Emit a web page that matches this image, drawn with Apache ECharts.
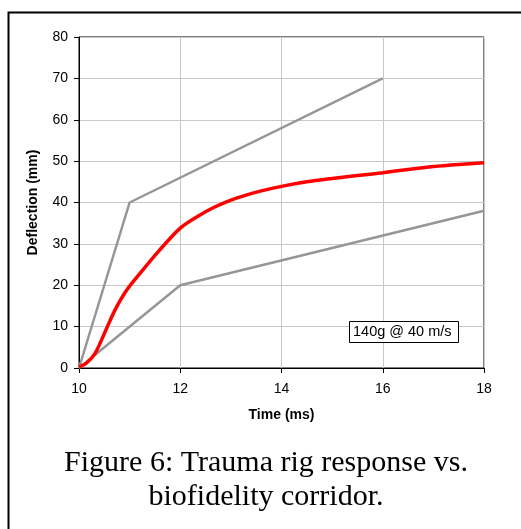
<!DOCTYPE html>
<html><head><meta charset="utf-8">
<script src="https://cdn.jsdelivr.net/npm/echarts@6/dist/echarts.min.js"></script>
<style>html,body{margin:0;padding:0;background:#fff}#c{width:521px;height:529px}</style>
</head><body><div id="c"></div>
<script>
// Corridor bounds
var upperT = [10, 11, 16];
var upperD = [0, 40, 70];
var lowerT = [10, 12, 18];
var lowerD = [0, 20, 38];
// Trauma rig response
var respT = [10, 10.15, 10.32, 10.51, 10.71, 10.94, 11.24, 11.57, 12.0, 12.35, 12.68, 13.0, 13.3, 13.6, 14.0, 14.5, 15.0, 15.5, 16.0, 16.5, 17.0, 17.5, 18.0];
var respD = [0.3, 1.2, 3.6, 8.6, 14.0, 18.8, 23.4, 28.2, 33.8, 36.7, 38.9, 40.6, 41.8, 42.8, 43.9, 45.0, 45.8, 46.5, 47.2, 48.0, 48.7, 49.2, 49.6];
var xTicks = [10, 12, 14, 16, 18];
var yTicks = [0, 10, 20, 30, 40, 50, 60, 70, 80];
var annotation = '140g @ 40 m/s';
var caption = ['Figure 6: Trauma rig response vs.', 'biofidelity corridor.'];

function zip(a, b) { return a.map(function (v, i) { return [v, b[i]]; }); }

var chart = echarts.init(document.getElementById('c'));
chart.setOption({
  animation: false,
  backgroundColor: '#fff',
  grid: { left: 79, right: 37, top: 37, bottom: 161, show: true, borderColor: '#000', borderWidth: 1 },
  xAxis: {
    type: 'value', min: xTicks[0], max: xTicks[xTicks.length - 1], interval: 2,
    name: 'Time (ms)', nameLocation: 'middle', nameGap: 40,
    nameTextStyle: { fontFamily: 'Liberation Sans', fontWeight: 'bold', fontSize: 14, color: '#000' },
    axisLine: { lineStyle: { color: '#000', width: 1 } },
    axisTick: { show: true, length: 5, lineStyle: { color: '#000' } },
    axisLabel: { fontFamily: 'Liberation Sans', fontSize: 14, color: '#000', margin: 14 },
    splitLine: { show: true, lineStyle: { color: '#c8c8c8', width: 1 } }
  },
  yAxis: {
    type: 'value', min: yTicks[0], max: yTicks[yTicks.length - 1], interval: 10,
    name: 'Deflection (mm)', nameLocation: 'middle', nameGap: 39,
    nameTextStyle: { fontFamily: 'Liberation Sans', fontWeight: 'bold', fontSize: 14, color: '#000' },
    axisLine: { show: true, lineStyle: { color: '#000', width: 1 } },
    axisTick: { show: true, length: 5, lineStyle: { color: '#000' } },
    axisLabel: { fontFamily: 'Liberation Sans', fontSize: 14, color: '#000', margin: 11 },
    splitLine: { show: true, lineStyle: { color: '#c8c8c8', width: 1 } }
  },
  series: [
    { type: 'line', data: zip(upperT, upperD), showSymbol: false, symbol: 'none',
      lineStyle: { color: '#969696', width: 2.5 }, z: 3 },
    { type: 'line', data: zip(lowerT, lowerD), showSymbol: false, symbol: 'none',
      lineStyle: { color: '#969696', width: 2.5 }, z: 3 },
    { type: 'line', data: zip(respT, respD), showSymbol: false, symbol: 'none', smooth: 0.3,
      lineStyle: { color: '#ff0000', width: 3.5 }, z: 4 }
  ],
  graphic: [
    { type: 'rect', left: 6, top: 10, z: 10, silent: true,
      shape: { width: 600, height: 600 },
      style: { fill: 'none', stroke: '#000', lineWidth: 2 } },
    { type: 'rect', left: 349, top: 321, z: 10,
      shape: { width: 109, height: 21 },
      style: { fill: '#fff', stroke: '#000', lineWidth: 1 } },
    { type: 'text', left: 353, top: 324, z: 11,
      style: { text: annotation, font: '14.5px "Liberation Sans"', fill: '#000' } },
    { type: 'text', x: 266, y: 463, z: 11,
      style: { text: caption[0], font: '30px "Liberation Serif"', fill: '#000', textAlign: 'center', textVerticalAlign: 'middle' } },
    { type: 'text', x: 266, y: 497, z: 11,
      style: { text: caption[1], font: '30px "Liberation Serif"', fill: '#000', textAlign: 'center', textVerticalAlign: 'middle' } }
  ]
});
</script></body></html>
